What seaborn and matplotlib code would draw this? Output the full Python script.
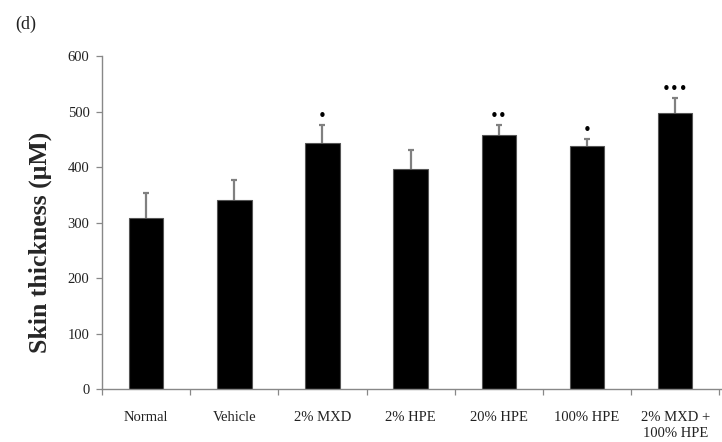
import numpy as np
import pandas as pd
import matplotlib
matplotlib.use("Agg")
import matplotlib.pyplot as plt
import seaborn as sns

# Skin thickness per treatment group (mean and upper SD)
groups = ["Normal", "Vehicle", "2% MXD", "2% HPE", "20% HPE", "100% HPE", "2% MXD +\n100% HPE"]
thickness = [308, 341, 443, 397, 457, 437, 497]
sd = [46, 36, 32, 34, 19, 14, 27]
significance = ["", "", "*", "", "**", "*", "***"]

sns.set_theme(style="white")
plt.rcParams["font.family"] = ["Liberation Serif", "DejaVu Serif"]

df = pd.DataFrame({"group": groups, "thickness": thickness})

fig = plt.figure(figsize=(7.22, 4.42), dpi=100)
ax = fig.add_axes([0.1413, 0.1199, 0.8587, 0.7534])

sns.barplot(data=df, x="group", y="thickness", color="black", width=0.39,
            errorbar=None, edgecolor="#555555", linewidth=0.8, saturation=1, ax=ax)

# upper-only error bars
x = np.arange(len(groups))
_, caps, _ = ax.errorbar(x, thickness, yerr=[np.zeros(len(sd)), sd], fmt="none",
                         ecolor="#808080", elinewidth=1.6, capsize=2.2, capthick=1.6, zorder=3)
caps[0].set_visible(False)

for xi, yi, e, s in zip(x, thickness, sd, significance):
    if s:
        ax.text(xi, yi + e + 2, "\u2022" * len(s), ha="center", va="bottom",
                fontsize=11, color="black", family="DejaVu Sans")

ax.set_ylim(0, 600)
ax.set_xlim(-0.5, 6.53)
ax.set_yticks(range(0, 601, 100))
ax.set_xticks(x)
ax.set_xticklabels(groups, fontsize=10.5, color="#222222", linespacing=1.25)
ax.tick_params(axis="x", length=0, pad=16)
ax.set_xticks(np.arange(-0.5, 7, 1), minor=True)
ax.tick_params(axis="x", which="minor", length=4, width=0.9, color="#888888", direction="out", bottom=True)
ax.tick_params(axis="y", length=4, width=0.9, color="#888888", direction="out", left=True,
               labelsize=10.5, labelcolor="#222222", pad=5)

ax.set_xlabel("")
ax.set_ylabel("Skin thickness (\u03bcM)", fontsize=18.5, fontweight="bold")
ax.yaxis.set_label_coords(-0.08, 0.44)

for side in ["top", "right"]:
    ax.spines[side].set_visible(False)
for side in ["left", "bottom"]:
    ax.spines[side].set_color("#888888")
    ax.spines[side].set_linewidth(1.0)

fig.text(0.021, 0.965, "(d)", fontsize=13, ha="left", va="top", color="#222222")

fig.savefig("out.png", dpi=100)
